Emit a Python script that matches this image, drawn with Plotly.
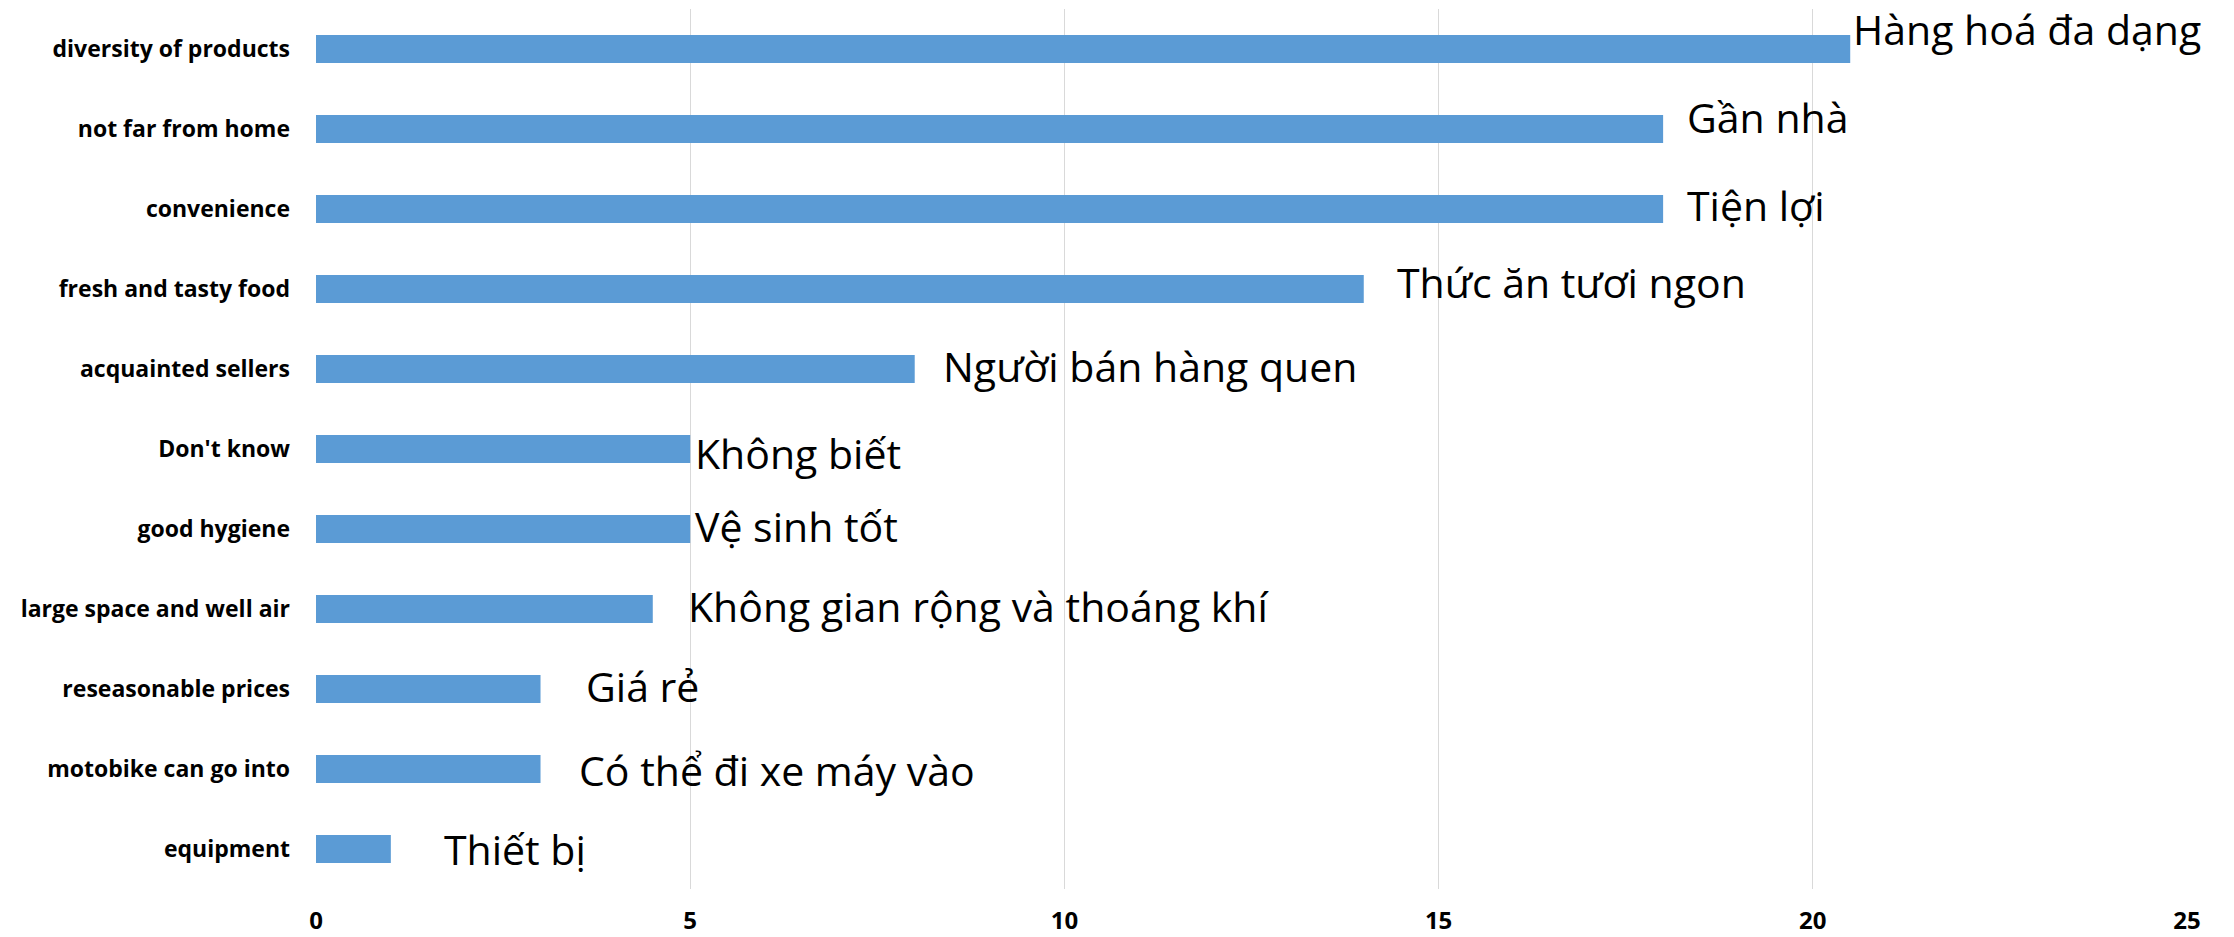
import plotly.graph_objects as go

categories = ["diversity of products", "not far from home", "convenience",
              "fresh and tasty food", "acquainted sellers", "Don't know",
              "good hygiene", "large space and well air", "reseasonable prices",
              "motobike can go into", "equipment"]
values = [20.5, 18, 18, 14, 8, 5, 5, 4.5, 3, 3, 1]
labels_vi = ["Hàng hoá đa dạng", "Gần nhà", "Tiện lợi", "Thức ăn tươi ngon",
             "Người bán hàng quen", "Không biết", "Vệ sinh tốt",
             "Không gian rộng và thoáng khí", "Giá rẻ", "Có thể đi xe máy vào",
             "Thiết bị"]
x_ticks = [0, 5, 10, 15, 20, 25]

# manual label placement (offset from bar end in data units, vertical px shift)
label_dx = [0.02, 0.31, 0.31, 0.43, 0.36, 0.05, 0.05, 0.46, 0.6, 0.5, 0.7]
label_dy = [20, 12, 4, 7, 3, -4, 3, 3, 3, -1, 0]

fig = go.Figure(go.Bar(
    x=values, y=categories, orientation="h",
    marker=dict(color="#5b9bd5", line=dict(width=0)),
    width=0.35,
))

for cat, v, lab, dx, dy in zip(categories, values, labels_vi, label_dx, label_dy):
    fig.add_annotation(x=v + dx, y=cat, text=lab, xanchor="left", yanchor="middle",
                       showarrow=False, yshift=dy, borderpad=0,
                       font=dict(family="Open Sans", size=41, color="#000000"))

fig.update_layout(
    width=2234, height=937,
    margin=dict(l=316, r=47, t=9, b=48),
    paper_bgcolor="white", plot_bgcolor="white",
    showlegend=False,
    bargap=0.65,
)
fig.update_xaxes(range=[0, 25], tickvals=x_ticks, showgrid=True, gridcolor="#d9d9d9",
                 gridwidth=1, zeroline=False, showline=False, ticks="", automargin=False,
                 tickfont=dict(family="Open Sans", size=24, color="#000000", weight="bold"),
                 ticklabelstandoff=15)
fig.update_yaxes(categoryorder="array", categoryarray=categories, autorange="reversed",
                 showgrid=False, zeroline=False, showline=False, ticks="", automargin=False,
                 tickfont=dict(family="Open Sans", size=23, color="#000000", weight="bold"),
                 ticklabelstandoff=25)

fig.write_html("out.html", config={"displayModeBar": False},
               post_script="document.body.style.margin='0';")
